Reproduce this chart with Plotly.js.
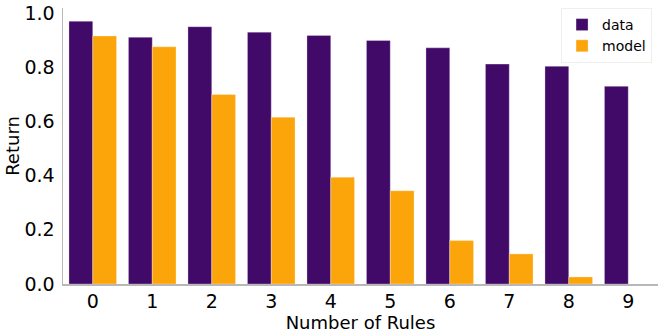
<!DOCTYPE html>
<html>
<head>
<meta charset="utf-8">
<script src="https://cdn.plot.ly/plotly-3.0.1.min.js"></script>
<style>
  html, body { margin: 0; padding: 0; background: white; }
  #chart { width: 665px; height: 336px; }
</style>
</head>
<body>
<div id="chart"></div>
<script>
  // number of rules on the x axis
  var rules = ['0', '1', '2', '3', '4', '5', '6', '7', '8', '9'];
  // returns
  var dataReturn = [0.969, 0.910, 0.949, 0.929, 0.917, 0.898, 0.871, 0.811, 0.803, 0.729];
  var modelReturn = [0.915, 0.875, 0.699, 0.615, 0.394, 0.344, 0.160, 0.111, 0.026, 0];
  var yTicks = [0, 0.2, 0.4, 0.6, 0.8, 1.0];

  var purple = '#420a68';
  var orange = '#fca50a';
  var font = 'DejaVu Sans, sans-serif';

  var traceData = {
    x: rules,
    y: dataReturn,
    type: 'bar',
    name: 'data',
    marker: {color: purple, line: {color: 'rgba(255,255,255,0.6)', width: 0.5}},
    hoverinfo: 'skip'
  };

  var traceModel = {
    x: rules,
    y: modelReturn,
    type: 'bar',
    name: 'model',
    marker: {color: orange, line: {color: 'rgba(255,255,255,0.6)', width: 0.5}},
    hoverinfo: 'skip'
  };

  var layout = {
    width: 665,
    height: 336,
    barmode: 'group',
    bargap: 0.2,
    bargroupgap: 0,
    plot_bgcolor: 'white',
    paper_bgcolor: 'white',
    margin: {l: 63, r: 7, t: 8, b: 52},
    font: {family: font, color: '#000', size: 18},
    xaxis: {
      type: 'category',
      range: [-0.5, 9.5],
      showline: true,
      linecolor: '#b8b8b8',
      linewidth: 1.5,
      showgrid: false,
      zeroline: false,
      ticks: '',
      ticklabelstandoff: 0,
      tickfont: {size: 19},
      title: {text: 'Number of Rules', font: {size: 18}, standoff: 0}
    },
    yaxis: {
      range: [0, 1.018],
      tickvals: yTicks,
      tickformat: '.1f',
      showline: true,
      linecolor: '#b8b8b8',
      linewidth: 1.5,
      showgrid: false,
      zeroline: false,
      ticks: '',
      ticklabelstandoff: 3,
      tickfont: {size: 19},
      title: {text: 'Return', font: {size: 18}, standoff: 0}
    },
    legend: {
      x: 0.99,
      y: 1.0,
      xanchor: 'right',
      yanchor: 'top',
      bgcolor: 'white',
      bordercolor: '#eeeeee',
      borderwidth: 1,
      font: {size: 14},
      itemwidth: 30
    },
    showlegend: true
  };

  Plotly.newPlot('chart', [traceData, traceModel], layout, {displayModeBar: false, staticPlot: true});
</script>
</body>
</html>
